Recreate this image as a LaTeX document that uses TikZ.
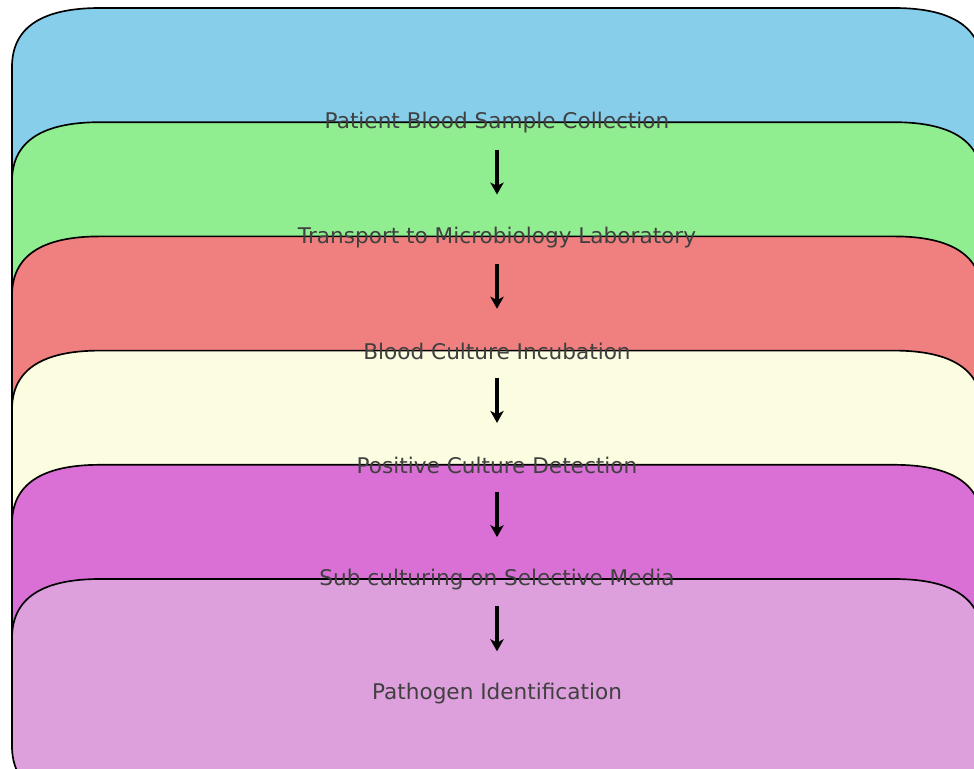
\documentclass[tikz,border=0pt]{standalone}
\usepackage{fontspec}
\setmainfont{DejaVu Sans}
\usetikzlibrary{arrows.meta,positioning,backgrounds}

\definecolor{skyblue}{HTML}{87CEEB}
\definecolor{lightgreen}{HTML}{90EE90}
\definecolor{lightcoral}{HTML}{F08080}
\definecolor{lightyellow}{HTML}{FCFCE0}
\definecolor{orchid}{HTML}{DA70D6}
\definecolor{plum}{HTML}{DDA0DD}

\begin{document}
\begin{tikzpicture}[x=0.75pt,y=0.75pt,node distance=85.65pt,on grid,
	stage/.style={text=black!75,font=\fontsize{16.2}{19}\selectfont},
	panel/.style={draw=black,line width=1.25pt},
	flow/.style={-{Stealth[length=9pt,width=10pt,inset=2.5pt]},line width=2.4pt,shorten <=20pt,shorten >=32pt}]
	\useasboundingbox (0,0) rectangle (974,768);
	\node[stage] (s_1) at (497,645) {Patient Blood Sample Collection};
	\node[stage] (s_2) [below=of s_1] {Transport to Microbiology Laboratory};
	\node[stage] (s_3) [below=of s_2] {Blood Culture Incubation};
	\node[stage] (s_4) [below=of s_3] {Positive Culture Detection};
	\node[stage] (s_5) [below=of s_4] {Sub culturing on Selective Media};
	\node[stage] (s_6) [below=of s_5] {Pathogen Identification};
	\begin{scope}[on background layer]
		\clip (0,0) rectangle (974,768);
		\foreach \i/\col in {1/skyblue,2/lightgreen,3/lightcoral,4/lightyellow,5/orchid,6/plum}
			\filldraw[panel,fill=\col,shift={(s_\i.center)}] (-485,-52) -- (-485,56)
				.. controls (-485,95.3) and (-455.7,115) .. (-397,115) -- (397,115)
				.. controls (455.7,115) and (485,95.3) .. (485,56) -- (485,-52)
				.. controls (485,-91.3) and (455.7,-111) .. (397,-111) -- (-397,-111)
				.. controls (-455.7,-111) and (-485,-91.3) .. (-485,-52) -- cycle;
	\end{scope}
	\path[flow]
	(s_1.center) edge (s_2.center)
	(s_2.center) edge (s_3.center)
	(s_3.center) edge (s_4.center)
	(s_4.center) edge (s_5.center)
	(s_5.center) edge (s_6.center);
\end{tikzpicture}
\end{document}
